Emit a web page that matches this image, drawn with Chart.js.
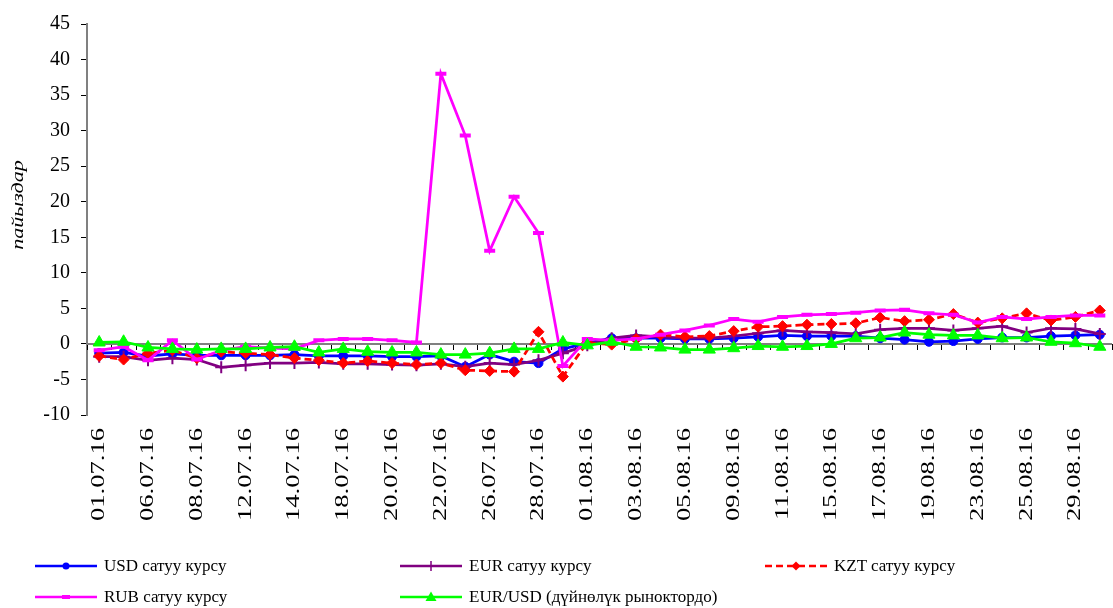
<!DOCTYPE html>
<html><head><meta charset="utf-8">
<script src="https://cdn.jsdelivr.net/npm/chart.js@4.4.1/dist/chart.umd.min.js"></script>
<style>
html,body{margin:0;padding:0;background:#fff;}
#wrap{position:relative;width:1113px;height:608px;overflow:hidden;}
#c{position:absolute;left:0;top:0;}
#legend{position:absolute;left:0;top:0;width:1113px;height:608px;pointer-events:none;font-family:"Liberation Serif","Times New Roman",serif;font-size:17px;color:#000;}
.li{position:absolute;display:flex;align-items:center;white-space:nowrap;height:18px;}
.li svg{margin-right:7px;}
</style></head><body>
<div id="wrap"><canvas id="c" width="1113" height="608"></canvas><div id="legend"></div></div>
<script>
const categories = ['01.07.16','05.07.16','06.07.16','07.07.16','08.07.16','11.07.16','12.07.16','13.07.16','14.07.16','15.07.16',
  '18.07.16','19.07.16','20.07.16','21.07.16','22.07.16','25.07.16','26.07.16','27.07.16','28.07.16','29.07.16',
  '01.08.16','02.08.16','03.08.16','04.08.16','05.08.16','08.08.16','09.08.16','10.08.16','11.08.16','12.08.16',
  '15.08.16','16.08.16','17.08.16','18.08.16','19.08.16','22.08.16','23.08.16','24.08.16','25.08.16','26.08.16',
  '29.08.16','30.08.16'];
const tickLabels = ['01.07.16','06.07.16','08.07.16','12.07.16','14.07.16','18.07.16','20.07.16','22.07.16','26.07.16','28.07.16',
  '01.08.16','03.08.16','05.08.16','09.08.16','11.08.16','15.08.16','17.08.16','19.08.16','23.08.16','25.08.16','29.08.16'];
const yTicks = [-10,-5,0,5,10,15,20,25,30,35,40,45];
const seriesNames = ['USD сатуу курсу','EUR сатуу курсу','KZT сатуу  курсу','RUB сатуу курсу','EUR/USD (дүйнөлүк рыноктордо)'];
const usd = [-1.3,-1.2,-1.7,-1.4,-1.6,-1.6,-1.6,-1.6,-1.5,-1.7,-1.7,-1.7,-1.8,-1.8,-1.7,-3.2,-1.5,-2.5,-2.7,-0.7,
  0.1,0.8,0.8,0.8,0.7,0.7,0.8,1.0,1.2,1.1,1.1,1.1,0.8,0.6,0.3,0.4,0.7,0.9,0.9,1.1,1.2,1.3];
const eur = [-1.8,-1.8,-2.3,-2.0,-2.2,-3.3,-3.0,-2.7,-2.7,-2.6,-2.8,-2.8,-2.9,-3.0,-2.8,-3.2,-2.7,-2.9,-2.3,-1.3,
  -0.2,0.8,1.2,1.0,0.8,0.8,1.1,1.5,1.9,1.7,1.6,1.4,2.0,2.2,2.2,1.9,2.2,2.5,1.6,2.2,2.1,1.4];
const kzt = [-1.7,-2.2,-1.3,-0.9,-2.0,-1.1,-1.3,-1.5,-2.0,-2.3,-2.7,-2.4,-2.7,-2.9,-2.7,-3.7,-3.8,-3.9,1.7,-4.6,
  0.2,-0.1,0.7,1.3,1.0,1.1,1.8,2.4,2.5,2.7,2.8,2.9,3.7,3.2,3.4,4.2,3.0,3.6,4.3,3.3,3.8,4.7];
const rub = [-0.9,-0.4,-2.3,0.5,-2.2,-0.9,-0.4,-0.6,-0.7,0.5,0.7,0.7,0.5,0.2,38.0,29.3,13.1,20.7,15.6,-3.1,
  0.7,0.5,0.7,1.3,1.9,2.6,3.5,3.1,3.8,4.1,4.2,4.4,4.7,4.8,4.3,4.1,3.0,3.8,3.5,3.8,4.0,4.0];
const eurusd = [0.2,0.3,-0.5,-0.7,-0.8,-0.7,-0.7,-0.5,-0.4,-1.2,-0.7,-1.1,-1.2,-1.2,-1.5,-1.5,-1.3,-0.7,-0.7,0.2,
  -0.2,0.3,-0.4,-0.5,-0.8,-0.8,-0.6,-0.3,-0.4,-0.3,0.0,0.8,0.9,1.6,1.3,1.2,1.2,0.8,0.9,0.3,0.1,-0.4];

const FONT = '"Liberation Serif","Times New Roman",serif';
const LABEL_STRETCH = 1.4;
const TITLE_STRETCH = 1.3;
const TITLE_CENTER_Y = 205;

function ds(i, data, color, style, radius, extra){
  return Object.assign({
    label: seriesNames[i], data, borderColor: color, backgroundColor: color,
    pointBackgroundColor: color, pointBorderColor: color, pointStyle: style,
    pointRadius: radius, pointBorderWidth: 1, borderWidth: 2.75, tension: 0, order: 4 - i
  }, extra || {});
}

const datasets = [
  ds(0, usd, '#0000FF', 'circle', 4.5),
  ds(1, eur, '#800080', 'cross', 6, {pointBorderWidth: 2}),
  ds(2, kzt, '#FF0000', 'rectRot', 5.5, {borderDash: [7, 4]}),
  ds(3, rub, '#FF00FF', 'line', 5.5, {pointBorderWidth: 4}),
  ds(4, eurusd, '#00FF00', 'triangle', 7)
];

const zeroAxis = {
  id: 'zeroAxis',
  beforeDatasetsDraw(chart){
    const {ctx, chartArea, scales:{x, y}} = chart;
    const y0 = Math.round(y.getPixelForValue(0));
    ctx.save();
    ctx.strokeStyle = '#000';
    ctx.lineWidth = 1;
    const n = categories.length;
    for (let i = 0; i <= n; i++){
      let px;
      if (i === 0) px = chartArea.left;
      else if (i === n) px = chartArea.right;
      else px = (x.getPixelForValue(i - 1) + x.getPixelForValue(i)) / 2;
      px = Math.round(px) + 0.5;
      ctx.beginPath(); ctx.moveTo(px, y0); ctx.lineTo(px, y0 + 6); ctx.stroke();
    }
    ctx.strokeStyle = '#808080';
    ctx.lineWidth = 2;
    ctx.beginPath(); ctx.moveTo(chartArea.left, y0); ctx.lineTo(chartArea.right, y0); ctx.stroke();
    ctx.restore();
  }
};

const stretchText = {
  id: 'stretchText',
  afterLayout(chart){
    const sx = chart.scales.x, sy = chart.scales.y;
    if (!sx._stretched){
      sx._stretched = true;
      const orig = sx.drawLabels;
      sx.drawLabels = function(area){
        const ctx = this.ctx;
        const y0 = this.top + 8 + this.options.ticks.padding;
        ctx.save();
        ctx.translate(0, y0); ctx.scale(1, LABEL_STRETCH); ctx.translate(0, -y0);
        orig.call(this, area);
        ctx.restore();
      };
    }
    if (!sy._stretched){
      sy._stretched = true;
      const origT = sy.drawTitle;
      sy.drawTitle = function(){
        const ctx = this.ctx;
        const yc = (this.top + this.bottom) / 2;
        ctx.save();
        ctx.translate(0, TITLE_CENTER_Y); ctx.scale(1, TITLE_STRETCH); ctx.translate(0, -yc);
        origT.call(this);
        ctx.restore();
      };
    }
  }
};

const chart = new Chart(document.getElementById('c'), {
  type: 'line',
  data: { labels: categories, datasets },
  plugins: [zeroAxis, stretchText],
  options: {
    responsive: false, animation: false, devicePixelRatio: 1,
    layout: { autoPadding: false, padding: { top: 24, right: 1, left: 0, bottom: 0 } },
    plugins: { legend: { display: false }, tooltip: { enabled: false } },
    scales: {
      x: {
        type: 'category', offset: true,
        grid: { display: false, drawTicks: true, tickLength: 8 },
        border: { display: false },
        ticks: {
          autoSkip: false, minRotation: 90, maxRotation: 90, padding: 5,
          color: '#000', font: { family: FONT, size: 19 },
          callback: (v, i) => tickLabels.includes(categories[i]) ? categories[i] : ''
        },
        afterFit: s => { s.height = 193; s.paddingLeft = 0; s.paddingRight = 0; }
      },
      y: {
        min: -10, max: 45,
        afterBuildTicks: s => { s.ticks = yTicks.map(v => ({ value: v })); },
        grid: { display: true, drawOnChartArea: false, drawTicks: true, tickLength: 6, color: '#000', lineWidth: 1 },
        border: { display: true, color: '#808080', width: 2 },
        ticks: { color: '#000', padding: 11, font: { family: FONT, size: 20 } },
        title: { display: true, text: 'пайыздар', color: '#000', padding: { top: 8, bottom: 0 },
          font: { family: FONT, size: 17, style: 'italic' } },
        afterFit: s => { s.width = 87; }
      }
    }
  }
});

// HTML legend built from the chart's datasets
(function buildLegend(){
  const pos = [[35, 566], [400, 566], [765, 566], [35, 597], [400, 597]];
  const el = document.getElementById('legend');
  chart.data.datasets.forEach((d, i) => {
    const w = 62, h = 16, cx = 31, cy = 8;
    const c = d.borderColor;
    let m = '';
    if (d.pointStyle === 'circle') m = `<circle cx="${cx}" cy="${cy}" r="3.5" fill="${c}"/>`;
    else if (d.pointStyle === 'cross') m = `<path d="M${cx-5} ${cy}H${cx+5}M${cx} ${cy-5}V${cy+5}" stroke="${c}" stroke-width="1.5"/>`;
    else if (d.pointStyle === 'rectRot') m = `<path d="M${cx} ${cy-4.5}L${cx+4.5} ${cy}L${cx} ${cy+4.5}L${cx-4.5} ${cy}Z" fill="${c}"/>`;
    else if (d.pointStyle === 'line') m = `<path d="M${cx-4} ${cy}H${cx+4}" stroke="${c}" stroke-width="4"/>`;
    else if (d.pointStyle === 'triangle') m = `<path d="M${cx} ${cy-5.5}L${cx+5.5} ${cy+4}L${cx-5.5} ${cy+4}Z" fill="${c}"/>`;
    const dash = d.borderDash ? ` stroke-dasharray="${d.borderDash.join(',')}"` : '';
    const svg = `<svg width="${w}" height="${h}"><line x1="0" y1="${cy}" x2="${w}" y2="${cy}" stroke="${c}" stroke-width="2.5"${dash}/>${m}</svg>`;
    const item = document.createElement('div');
    item.className = 'li';
    item.style.left = pos[i][0] + 'px';
    item.style.top = (pos[i][1] - 9) + 'px';
    item.innerHTML = svg + '<span></span>';
    item.querySelector('span').textContent = d.label;
    el.appendChild(item);
  });
})();
</script>
</body></html>
